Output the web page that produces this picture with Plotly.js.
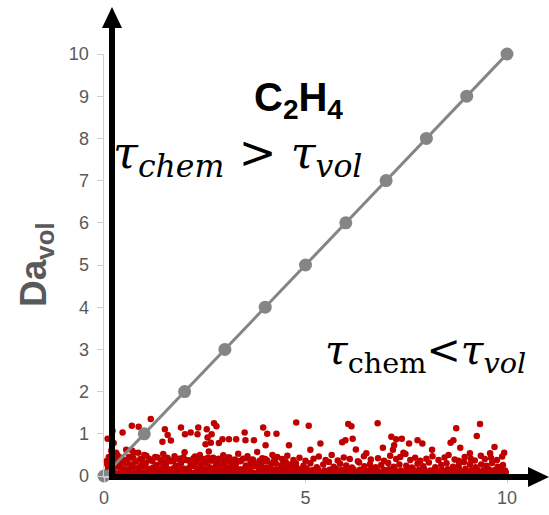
<!DOCTYPE html>
<html>
<head>
<meta charset="utf-8">
<script src="https://cdn.plot.ly/plotly-3.0.1.min.js"></script>
<style>html,body{margin:0;padding:0;background:#fff;}#chart{width:549px;height:515px;}</style>
</head>
<body>
<div id="chart"></div>
<script>
// Diagonal reference line (tau_chem = tau_vol)
const lineX = [0,1,2,3,4,5,6,7,8,9,10];
const lineY = [0,1,2,3,4,5,6,7,8,9,10];

// Scatter: bottom row A
const rowAX = [0.05,0.17,0.28,0.41,0.52,0.63,0.76,0.88,0.99,1.11,1.23,1.35,1.46,1.58,1.71,1.82,1.93,2.06,2.18,2.29,2.41,2.53,2.66,2.77,2.88,3.01,3.13,3.24,3.36,3.49,3.6,3.71,3.84,3.96,4.07,4.19,4.31,4.43,4.55,4.66,4.78,4.9,5.02,5.14,5.25,5.37,5.49,5.61,5.72,5.84,5.96,6.08,6.2,6.31,6.43,6.55,6.67,6.79,6.9,7.02,7.14,7.26,7.38,7.49,7.61,7.73,7.85,7.97,8.08,8.2,8.32,8.44,8.56,8.67,8.79,8.91,9.03,9.15,9.27,9.38,9.5,9.62,9.74,9.86,9.97];
const rowAY = [0.08,0.1,0.07,0.09,0.11,0.08,0.07,0.1,0.09,0.07,0.11,0.08,0.09,0.1,0.07,0.08,0.11,0.09,0.07,0.1,0.08,0.09,0.07,0.11,0.08,0.1,0.09,0.07,0.08,0.1,0.09,0.07,0.11,0.08,0.09,0.07,0.1,0.08,0.09,0.11,0.07,0.08,0.1,0.09,0.07,0.08,0.1,0.09,0.07,0.11,0.08,0.09,0.07,0.1,0.08,0.09,0.11,0.07,0.09,0.08,0.1,0.07,0.09,0.08,0.11,0.07,0.09,0.1,0.08,0.07,0.09,0.11,0.08,0.1,0.07,0.09,0.08,0.1,0.07,0.09,0.08,0.11,0.07,0.09,0.08];
// bottom row B
const rowBX = [0.1,0.22,0.35,0.47,0.6,0.72,0.85,0.97,1.1,1.22,1.36,1.49,1.61,1.74,1.86,1.99,2.12,2.24,2.37,2.5,2.62,2.75,2.88,3.0,3.13,3.26,3.38,3.51,3.64,3.76,3.89,4.02,4.14,4.27,4.4,4.52,4.65,4.78,4.9,5.03,5.18,5.31,5.47,5.6,5.76,5.9,6.04,6.19,6.35,6.48,6.63,6.78,6.94,7.07,7.22,7.37,7.52,7.66,7.81,7.95,8.1,8.24,8.39,8.53,8.68,8.82,8.97,9.12,9.26,9.41,9.55,9.7,9.84,9.95];
const rowBY = [0.2,0.17,0.22,0.18,0.16,0.21,0.19,0.23,0.17,0.2,0.18,0.22,0.16,0.19,0.21,0.17,0.2,0.23,0.18,0.16,0.21,0.19,0.17,0.22,0.2,0.18,0.16,0.21,0.19,0.23,0.17,0.2,0.18,0.16,0.21,0.19,0.17,0.2,0.16,0.18,0.14,0.16,0.13,0.15,0.17,0.14,0.13,0.16,0.15,0.14,0.17,0.13,0.15,0.16,0.14,0.13,0.15,0.17,0.14,0.16,0.13,0.15,0.14,0.16,0.13,0.15,0.17,0.14,0.15,0.13,0.16,0.14,0.15,0.13];
// band C (left dense, right sparse)
const rowCX = [0.08,0.19,0.31,0.43,0.55,0.68,0.79,0.92,1.04,1.17,1.29,1.41,1.54,1.66,1.78,1.91,2.03,2.16,2.28,2.4,2.53,2.65,2.78,2.9,3.02,3.15,3.27,3.4,3.52,3.64,3.77,3.89,4.01,4.14,4.26,4.39,4.51,4.63,4.76,4.95,5.12,5.28,5.44,5.58,5.7,5.86,6.01,6.15,6.33,6.46,6.6,6.74,6.88,7.05,7.19,7.33,7.5,7.64,7.78,7.92,8.06,8.22,8.37,8.5,8.66,8.8,8.93,9.08,9.22,9.36,9.49,9.63,9.77,9.9];
const rowCY = [0.28,0.33,0.26,0.36,0.3,0.27,0.34,0.25,0.31,0.37,0.26,0.32,0.29,0.35,0.25,0.3,0.38,0.27,0.33,0.25,0.31,0.36,0.28,0.25,0.34,0.3,0.27,0.37,0.25,0.32,0.29,0.26,0.35,0.28,0.31,0.25,0.33,0.27,0.3,0.24,0.3,0.21,0.27,0.33,0.22,0.29,0.25,0.2,0.32,0.23,0.28,0.21,0.26,0.31,0.22,0.27,0.24,0.2,0.29,0.23,0.32,0.21,0.26,0.3,0.22,0.25,0.33,0.28,0.21,0.27,0.24,0.31,0.22,0.26];
// band D (left part, upper edge of the dense cluster)
const rowDX = [0.12,0.27,0.4,0.58,0.73,0.95,1.12,1.27,1.44,1.57,1.72,1.85,1.97,2.1,2.22,2.35,2.46,2.58,2.7,2.84,2.97,3.11,3.25,3.38,3.55,3.7,3.86,4.0,4.22,4.45];
const rowDY = [0.4,0.36,0.44,0.38,0.42,0.37,0.41,0.45,0.38,0.43,0.36,0.4,0.44,0.37,0.42,0.39,0.35,0.43,0.38,0.41,0.36,0.44,0.39,0.35,0.42,0.38,0.36,0.4,0.37,0.35];
// mid band
const midX = [0.15,0.33,0.5,0.62,0.74,0.9,1.05,1.2,1.33,1.47,1.6,1.75,1.88,2.0,2.12,2.26,2.38,2.49,2.6,2.71,2.83,2.96,3.08,3.2,3.33,3.45,3.56,3.68,3.8,3.93,4.05,4.18,4.3,4.42,4.55,4.7,4.85,5.0,5.2,5.33,5.5,5.65,5.8,5.95,6.1,6.3,6.45,6.62,6.8,6.95,7.1,7.25,7.35,7.48,7.6,7.72,7.85,8.0,8.15,8.3,8.45,8.55,8.7,8.8,8.95,9.1,9.2,9.35,9.45,9.6,9.75,9.88,0.05,0.12,0.25,0.3,0.4,0.18,0.55,0.7,0.85,1.0];
const midY = [0.42,0.5,0.38,0.45,0.55,0.4,0.48,0.36,0.44,0.52,0.39,0.47,0.41,0.56,0.37,0.46,0.5,0.4,0.58,0.43,0.38,0.49,0.44,0.36,0.53,0.41,0.47,0.39,0.57,0.42,0.37,0.5,0.45,0.4,0.48,0.38,0.43,0.36,0.41,0.46,0.38,0.5,0.37,0.44,0.4,0.35,0.47,0.39,0.42,0.36,0.48,0.4,0.45,0.52,0.38,0.43,0.36,0.41,0.47,0.38,0.44,0.5,0.39,0.36,0.45,0.41,0.37,0.48,0.4,0.43,0.38,0.46,0.35,0.45,0.4,0.55,0.3,0.6,0.62,0.6,0.55,0.5];
// upper sparse points
const upX = [1.16,0.69,0.86,0.21,0.46,0.09,0.24,1.45,1.58,1.66,1.51,1.91,2.01,2.15,2.34,2.32,2.55,2.73,2.79,2.67,2.57,2.65,2.52,2.94,3.10,2.85,3.28,3.49,3.51,3.72,3.95,4.05,4.28,4.01,4.59,4.77,5.08,5.37,5.12,5.91,5.99,6.06,6.14,6.17,6.25,6.79,6.51,6.92,7.13,7.25,7.39,7.20,7.17,7.57,7.78,7.90,7.43,8.74,9.33,9.25,8.67,8.60,8.84,9.69,9.93,8.14,9.58,9.08];
const upY = [1.35,1.19,1.17,1.07,1.03,0.88,0.78,0.81,0.97,0.84,1.11,1.15,0.99,1.03,1.15,0.99,1.11,1.25,1.18,0.99,0.91,0.79,0.75,0.87,0.87,0.78,0.87,1.03,0.85,0.85,1.15,1.00,1.00,0.73,0.73,1.27,1.19,0.77,0.62,0.80,0.85,1.23,1.18,0.88,0.63,1.25,0.54,0.67,0.93,0.87,0.88,0.73,0.62,0.77,0.85,0.77,0.55,1.13,1.23,0.95,0.85,0.79,0.67,0.69,0.55,0.62,0.54,0.54];

const xTicks = [0,5,10];
const yTicks = [0,1,2,3,4,5,6,7,8,9,10];

const scatX = [].concat(rowAX,rowBX,rowCX,rowDX,midX,upX);
const scatY = [].concat(rowAY,rowBY,rowCY,rowDY,midY,upY);

// pixel->paper helpers for decorations
const L=104, T=54, W=403, H=422;
const px = v => (v-L)/W;
const py = v => (T+H-v)/H;

const traces = [
  {x: scatX, y: scatY, type:'scatter', mode:'markers', cliponaxis:false,
   marker:{color:'#C00000', size:6.5}, hoverinfo:'none'},
  {x: lineX, y: lineY, type:'scatter', mode:'lines+markers', cliponaxis:false,
   line:{color:'#858585', width:3}, marker:{color:'#858585', size:13}, hoverinfo:'none'}
];

const axisFont = {family:'Liberation Sans, Arial, sans-serif', size:18, color:'#595959'};
const layout = {
  width:549, height:515,
  margin:{l:L, r:549-L-W, t:T, b:515-T-H},
  paper_bgcolor:'#fff', plot_bgcolor:'#fff',
  showlegend:false,
  xaxis:{range:[0,10], tickvals:xTicks, ticktext:xTicks.map(String), showgrid:false, zeroline:false,
         showline:true, linecolor:'#d0d0d0', linewidth:1.5, ticks:'outside', ticklen:5, tickcolor:'#d0d0d0',
         tickfont:axisFont},
  yaxis:{range:[0,10], tickvals:yTicks, ticktext:yTicks.map(String), showgrid:false, zeroline:false,
         showline:true, linecolor:'#d0d0d0', linewidth:1.5, ticks:'outside', ticklen:6, tickcolor:'#d0d0d0',
         tickfont:axisFont, ticklabelstandoff:4},
  shapes:[
    {type:'line', xref:'paper', yref:'paper', x0:px(112), x1:px(112), y0:py(479), y1:py(26),
     line:{color:'#000', width:6}, layer:'above'},
    {type:'path', xref:'paper', yref:'paper',
     path:`M ${px(102)} ${py(28)} L ${px(112)} ${py(7)} L ${px(122)} ${py(28)} Z`,
     fillcolor:'#000', line:{color:'#000', width:0}, layer:'above'},
    {type:'line', xref:'paper', yref:'paper', x0:px(109), x1:px(530), y0:py(477), y1:py(477),
     line:{color:'#000', width:6}, layer:'above'},
    {type:'path', xref:'paper', yref:'paper',
     path:`M ${px(528)} ${py(467)} L ${px(549)} ${py(477)} L ${px(528)} ${py(487)} Z`,
     fillcolor:'#000', line:{color:'#000', width:0}, layer:'above'}
  ],
  annotations:[
    {xref:'paper', yref:'paper', x:px(298), y:py(100), xanchor:'center', yanchor:'middle', showarrow:false,
     text:'<b>C<sub>2</sub>H<sub>4</sub></b>', font:{family:'Liberation Sans, Arial, sans-serif', size:40, color:'#000'}},
    {xref:'paper', yref:'paper', x:px(111), y:py(155), xanchor:'left', yanchor:'middle', showarrow:false,
     text:'<i>τ<sub>chem</sub></i> &gt; <i>τ<sub>vol</sub></i>', font:{family:'DejaVu Serif, serif', size:45, color:'#000'}},
    {xref:'paper', yref:'paper', x:px(323), y:py(353), xanchor:'left', yanchor:'middle', showarrow:false,
     text:'<i>τ</i><sub>chem</sub>&lt;<i>τ<sub>vol</sub></i>', font:{family:'DejaVu Serif, serif', size:41, color:'#000'}},
    {xref:'paper', yref:'paper', x:px(36), y:py(265), xanchor:'center', yanchor:'middle', showarrow:false, textangle:-90,
     text:'<b>Da<sub>vol</sub></b>', font:{family:'Liberation Sans, Arial, sans-serif', size:37, color:'#595959'}}
  ]
};

Plotly.newPlot('chart', traces, layout, {staticPlot:true, displayModeBar:false});
</script>
</body>
</html>
